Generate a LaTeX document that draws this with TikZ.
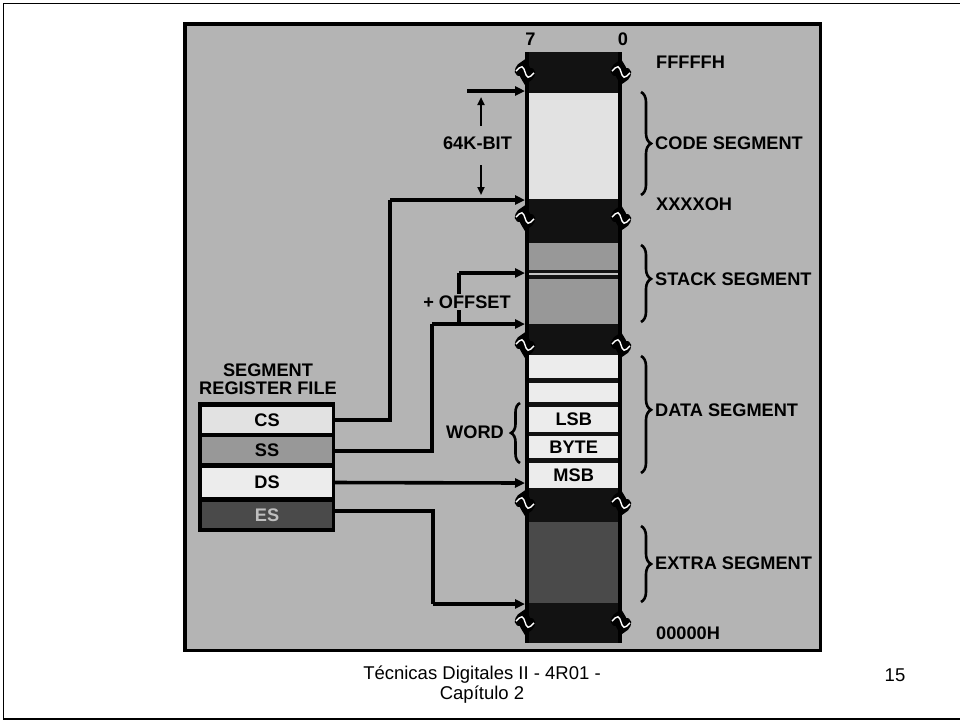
\documentclass[tikz,border=0pt]{standalone}
\usepackage{fontspec}
\setmainfont{Liberation Sans}
\usetikzlibrary{arrows.meta,decorations.pathreplacing}
\definecolor{panel}{RGB}{180,180,180}
\definecolor{codecol}{RGB}{226,226,226}
\definecolor{stackcol}{RGB}{152,152,152}
\definecolor{datacol}{RGB}{236,236,236}
\definecolor{extracol}{RGB}{74,74,74}
\definecolor{blk}{RGB}{18,18,18}
\newcommand\mybrk[2]{%
  \begin{scope}[shift={(#1,#2)}, rotate=-12]
    \draw[line width=11,line cap=round,black] (-5,0) sin (-2.5,-4.5) cos (0,0) sin (2.5,4.5) cos (5,0);
    \draw[line width=1.4,white] (-9,1) sin (-4,-4.5) cos (0,0) sin (4,4.5) cos (9,-1);
  \end{scope}}
\begin{document}
\begin{tikzpicture}[x=1pt,y=-1pt,
  lbl/.style={font=\fontsize{18.2}{20}\selectfont\bfseries, inner sep=0pt},
  cell/.style={minimum width=89, inner sep=0pt, anchor=north west, lbl},
  reg/.style={minimum width=130, minimum height=26, inner sep=0pt, lbl},
  conn/.style={line width=3.6, -{Triangle[length=10pt,width=9pt]}},
  wire/.style={line width=3.6},
  dim/.style={line width=2, -{Triangle[length=8pt,width=7pt]}},
  brc/.style={decorate, line width=2.6, decoration={brace, amplitude=10pt}}]
\useasboundingbox (0,0) rectangle (960,721);
\fill[white] (0,0) rectangle (960,721);
\draw[line width=1.6] (3.5,3.5) rectangle (964,718.8);
% panel
\draw[line width=3.5, fill=panel] (184.75,23.75) rectangle (820.25,650.25);
% memory column
\fill[blk] (525,52) rectangle (622,643);
\draw[line width=4, black] (527,52) -- (527,643) (620,52) -- (620,643);
\node[cell, fill=codecol, minimum height=106] (code) at (529,93) {};
\node[cell, fill=stackcol, minimum height=26.5] (stka) at (529,243) {};
\node[cell, fill=panel!80!white, minimum height=2] (stkl) at (529,272.3) {};
\node[cell, fill=stackcol, minimum height=45.7] (stkb) at (529,278.3) {};
\node[cell, fill=datacol, minimum height=23] (d1) at (529,355) {};
\node[cell, fill=datacol, minimum height=19] (d2) at (529,383) {};
\node[cell, fill=datacol, minimum height=25] (lsb) at (529,407) {LSB};
\node[cell, fill=datacol, minimum height=22] (byte) at (529,436) {BYTE};
\node[cell, fill=datacol, minimum height=25] (msb) at (529,463) {MSB};
\node[cell, fill=extracol, minimum height=81] (extra) at (529,522) {};
% break marks
\foreach \yy in {72,218,345,503,622} {\mybrk{525}{\yy}\mybrk{621}{\yy}}
% bit labels
\node[lbl] (b7) at (530.5,39) {7};
\node[lbl] (b0) at (623,39) {0};
% addresses
\node[lbl, anchor=west] (ffff) at (656,62) {FFFFFH};
\node[lbl, anchor=west] (xxxx) at (656,204) {XXXXOH};
\node[lbl, anchor=west] (zero) at (656,633) {00000H};
% braces and segment names
\draw[brc] (641,92) -- (641,195);
\node[lbl, anchor=west] (cseg) at (655,143) {CODE SEGMENT};
\draw[brc, decoration={aspect=0.44}] (641,245) -- (641,322);
\node[lbl, anchor=west] (sseg) at (655,279) {STACK SEGMENT};
\draw[brc, decoration={aspect=0.46}] (641,356) -- (641,473);
\node[lbl, anchor=west] (dseg) at (655,410) {DATA SEGMENT};
\draw[brc] (641,526) -- (641,602);
\node[lbl, anchor=west] (eseg) at (655,563) {EXTRA SEGMENT};
% word brace
\draw[brc, decoration={amplitude=9pt}] (520,463) -- (520,403);
\node[lbl, anchor=east] (word) at (504,432) {WORD};
% register file
\node[lbl, align=center] (rftitle) at (268,379) {SEGMENT\\[-2.5pt]REGISTER FILE};
\fill[black] (198,402) rectangle (335,532);
\node[reg, fill=codecol] (cs) at (267,420) {CS};
\node[reg, fill=stackcol, text=black] (ss) at (267,450) {SS};
\node[reg, fill=datacol, minimum height=29] (ds) at (267,482.5) {DS};
\node[reg, fill=extracol, text=black!25] (es) at (267,515) {ES};
% targets
\coordinate (tcodetop) at (525,91);
\coordinate (topstart) at (467,91);
\coordinate (tcode) at (525,200);
\coordinate (toff) at (525,273);
\coordinate (tstack) at (525,324);
\coordinate (tdata) at (525,483);
\coordinate (textra) at (525,604);
\coordinate (csbend) at (390,200);
\coordinate (ssbend) at (432,324);
\coordinate (offfork) at (459,324);
\coordinate (offbend) at (459,273);
\coordinate (esbend) at (433,604);
% connectors
\draw[conn] (topstart) -- (tcodetop);
\draw[wire] (cs.east) -- (cs.east -| csbend) -- (csbend);
\draw[conn] (csbend) -- (tcode);
\draw[wire] ([yshift=-1pt]ss.east) -| (ssbend);
\draw[conn] (ssbend) -- (tstack);
\draw[wire] (offfork) -- (offbend);
\draw[conn] (offbend) -- (toff);
\node[lbl, fill=panel, inner sep=1.5pt] (offset) at (467,302) {+ OFFSET};
\draw[conn] (ds.east) -- (tdata);
\draw[wire] ([yshift=4pt]es.east) -| (esbend);
\draw[conn] (esbend) -- (textra);
% 64K-BIT dimension
\node[lbl] (k64) at (477.5,143) {64K-BIT};
\coordinate (upstart) at (481,126);
\coordinate (uptip) at (481,97);
\coordinate (dnstart) at (481,165);
\coordinate (dntip) at (481,195);
\draw[dim] (upstart) -- (uptip);
\draw[dim] (dnstart) -- (dntip);
% footer
\node[font=\fontsize{18.5}{20}\selectfont, align=center, inner sep=0pt] (foot) at (482,685) {Técnicas Digitales II - 4R01 -\\Capítulo 2};
\node[font=\fontsize{18.5}{20}\selectfont, inner sep=0pt] (page) at (895,675) {15};
\end{tikzpicture}
\end{document}
